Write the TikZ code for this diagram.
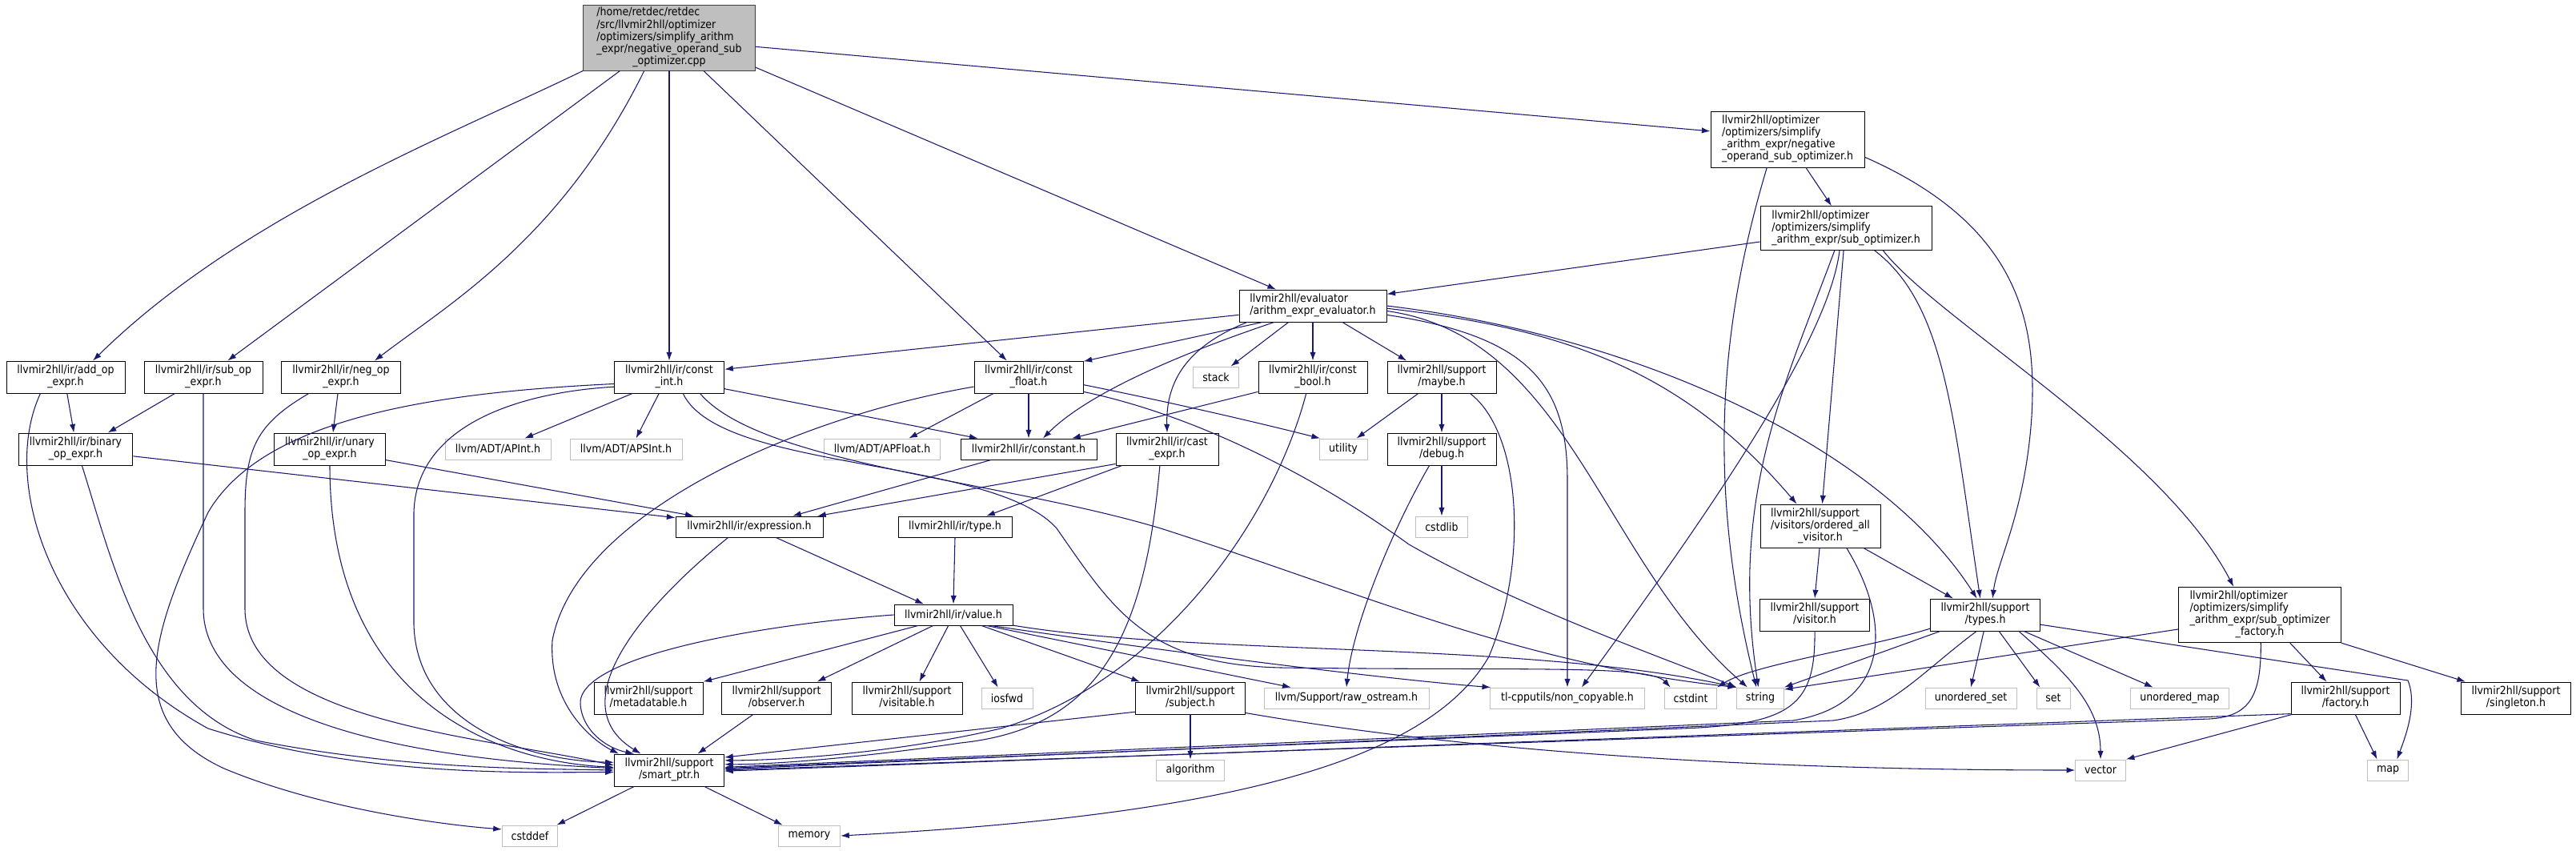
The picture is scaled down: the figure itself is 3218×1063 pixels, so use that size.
\documentclass[tikz,border=0pt]{standalone}
\usepackage{fontspec}
\usepackage{tikz}
\usetikzlibrary{arrows.meta}
\newfontfamily\dxfont{DejaVu Sans Condensed}
\definecolor{edgeblue}{HTML}{191970}
\definecolor{sysgray}{HTML}{BFBFBF}
\definecolor{rootfill}{HTML}{BFBFBF}
\definecolor{rootline}{HTML}{404040}
\newcommand{\flines}[2]{\begin{tabular}{@{}l@{}}#1\\\multicolumn{1}{@{}c@{}}{#2}\end{tabular}}

\begin{document}
\begin{tikzpicture}[
  x=0.75pt, y=-0.75pt,
  font={\dxfont\fontsize{10.5}{11.1}\selectfont},
  hdr/.style={rectangle, draw=black, fill=white, line width=0.7pt,
              inner sep=1pt, minimum height=30pt},
  sys/.style={hdr, draw=sysgray, minimum height=19.5pt},
  src/.style={hdr, draw=rootline, fill=rootfill},
  dep/.style={-{Latex[length=8pt,width=5.5pt]}, edgeblue, line width=0.8pt}]

  \useasboundingbox (0,0) rectangle (3218,1063);

  % source file and the optimizer headers
  \node[src, minimum width=161pt, minimum height=61.5pt] (root) at (836,47) {\flines{/home/retdec/retdec\\/src/llvmir2hll/optimizer\\/optimizers/simplify\_arithm\\\_expr/negative\_operand\_sub}{\_optimizer.cpp}};
  \node[hdr, minimum width=144pt, minimum height=52.5pt] (nsubh) at (2233,174) {\flines{llvmir2hll/optimizer\\/optimizers/simplify\\\_arithm\_expr/negative}{\_operand\_sub\_optimizer.h}};
  \node[hdr, minimum width=160.5pt, minimum height=41pt] (subopt) at (2306,285) {\flines{llvmir2hll/optimizer\\/optimizers/simplify}{\_arithm\_expr/sub\_optimizer.h}};
  \node[hdr, minimum width=138pt] (evalr) at (1640,382) {\flines{llvmir2hll/evaluator}{/arithm\_expr\_evaluator.h}};

  % ir row
  \node[hdr, minimum width=111pt] (addop) at (82,471) {\flines{llvmir2hll/ir/add\_op}{\_expr.h}};
  \node[hdr, minimum width=111pt] (subop) at (254,471) {\flines{llvmir2hll/ir/sub\_op}{\_expr.h}};
  \node[hdr, minimum width=112pt] (negop) at (426,471) {\flines{llvmir2hll/ir/neg\_op}{\_expr.h}};
  \node[hdr, minimum width=103pt] (cint) at (836,471) {\flines{llvmir2hll/ir/const}{\_int.h}};
  \node[hdr, minimum width=102pt] (cfloat) at (1285,471) {\flines{llvmir2hll/ir/const}{\_float.h}};
  \node[sys, minimum width=43pt] (stack) at (1519,471) {stack};
  \node[hdr, minimum width=102pt] (cbool) at (1640,471) {\flines{llvmir2hll/ir/const}{\_bool.h}};
  \node[hdr, minimum width=102pt] (maybe) at (1801,471) {\flines{llvmir2hll/support}{/maybe.h}};

  \node[hdr, minimum width=107pt] (binop) at (94.5,561) {\flines{llvmir2hll/ir/binary}{\_op\_expr.h}};
  \node[hdr, minimum width=104pt] (unop) at (412,561) {\flines{llvmir2hll/ir/unary}{\_op\_expr.h}};
  \node[sys, minimum width=99pt] (apint) at (622,561) {llvm/ADT/APInt.h};
  \node[sys, minimum width=105pt] (apsint) at (782,561) {llvm/ADT/APSInt.h};
  \node[sys, minimum width=109pt] (apfloat) at (1102,561) {llvm/ADT/APFloat.h};
  \node[hdr, minimum width=127.5pt, minimum height=19.5pt] (constant) at (1285,561) {llvmir2hll/ir/constant.h};
  \node[hdr, minimum width=96pt] (castx) at (1458,561) {\flines{llvmir2hll/ir/cast}{\_expr.h}};
  \node[sys, minimum width=45pt] (utility) at (1678,561) {utility};
  \node[hdr, minimum width=102pt] (debug) at (1801,561) {\flines{llvmir2hll/support}{/debug.h}};

  \node[hdr, minimum width=138pt, minimum height=19.5pt] (expr) at (936,658) {llvmir2hll/ir/expression.h};
  \node[hdr, minimum width=106.5pt, minimum height=19.5pt] (typeh) at (1193,658) {llvmir2hll/ir/type.h};
  \node[sys, minimum width=49pt] (cstdlib) at (1801,658) {cstdlib};
  \node[hdr, minimum width=112.5pt, minimum height=40.5pt] (ordvis) at (2274,657) {\flines{llvmir2hll/support\\/visitors/ordered\_all}{\_visitor.h}};

  \node[hdr, minimum width=111pt, minimum height=19.5pt] (value) at (1191,768) {llvmir2hll/ir/value.h};
  \node[hdr, minimum width=103pt] (visitor) at (2267,768) {\flines{llvmir2hll/support}{/visitor.h}};
  \node[hdr, minimum width=103pt] (types) at (2480,768) {\flines{llvmir2hll/support}{/types.h}};
  \node[hdr, minimum width=152pt, minimum height=52pt] (factoryopt) at (2823,768) {\flines{llvmir2hll/optimizer\\/optimizers/simplify\\\_arithm\_expr/sub\_optimizer}{\_factory.h}};

  % support row
  \node[hdr, minimum width=102pt] (metadat) at (810,872) {\flines{llvmir2hll/support}{/metadatable.h}};
  \node[hdr, minimum width=103pt] (observer) at (970,872) {\flines{llvmir2hll/support}{/observer.h}};
  \node[hdr, minimum width=103.5pt] (visitable) at (1133,872) {\flines{llvmir2hll/support}{/visitable.h}};
  \node[sys, minimum width=48pt] (iosfwd) at (1258,872) {iosfwd};
  \node[hdr, minimum width=103pt] (subject) at (1487,872) {\flines{llvmir2hll/support}{/subject.h}};
  \node[sys, minimum width=154.5pt] (rawos) at (1682,872) {llvm/Support/raw\_ostream.h};
  \node[sys, minimum width=145pt] (noncopy) at (1958,872) {tl-cpputils/non\_copyable.h};
  \node[sys, minimum width=49pt] (cstdint) at (2112,872) {cstdint};
  \node[sys, minimum width=44pt] (string) at (2199,872) {string};
  \node[sys, minimum width=85.5pt] (uset) at (2462,872) {unordered\_set};
  \node[sys, minimum width=31.5pt] (set) at (2565,872) {set};
  \node[sys, minimum width=92pt] (umap) at (2723,872) {unordered\_map};
  \node[hdr, minimum width=102pt] (factory) at (2930,872) {\flines{llvmir2hll/support}{/factory.h}};
  \node[hdr, minimum width=103pt] (singleton) at (3143,872) {\flines{llvmir2hll/support}{/singleton.h}};

  \node[hdr, minimum width=103pt] (smartptr) at (836,962) {\flines{llvmir2hll/support}{/smart\_ptr.h}};
  \node[sys, minimum width=64pt] (algorithm) at (1487,962) {algorithm};
  \node[sys, minimum width=47pt] (vector) at (2624,962) {vector};
  \node[sys, minimum width=38pt] (map) at (2983,962) {map};
  \node[sys, minimum width=52pt] (cstddef) at (662,1044) {cstddef};
  \node[sys, minimum width=58pt] (memory) at (1011,1044) {memory};

  % includes of the source file
  \draw[dep] (root.south west) .. controls (560,170) and (300,270) .. (addop.31);
  \draw[dep] (root.214) -- (subop.34);
  \draw[dep] (root.233) .. controls (700,300) and (560,380) .. (negop.26);
  \draw[dep] (root.south) -- (cint.north);
  \draw[dep] (root.316) -- (cfloat.143);
  \draw[dep] (root.-6) -- (nsubh.174);
  \draw[dep] (root.-19) -- (evalr.156);

  % optimizer headers
  \draw[dep] (nsubh.-57) -- (subopt.123);
  \draw[dep] (nsubh.234) .. controls (2150,400) and (2130,600) .. (string.110);
  \draw[dep] (nsubh.-13) .. controls (2520,280) and (2545,400) .. (2538,520) .. controls (2530,640) and (2495,700) .. (types.66);
  \draw[dep] (subopt.189) -- (evalr.9);
  \draw[dep] (subopt.264) -- (ordvis.85);
  \draw[dep] (subopt.243) .. controls (2230,480) and (2160,620) .. (string.100);
  \draw[dep] (subopt.254) .. controls (2285,420) and (2150,620) .. (noncopy.37);
  \draw[dep] (subopt.-38) .. controls (2430,380) and (2440,520) .. (types.107);
  \draw[dep] (subopt.-31) .. controls (2420,400) and (2700,560) .. (factoryopt.133);

  % evaluator
  \draw[dep] (evalr.187) -- (cint.8);
  \draw[dep] (evalr.198) -- (cfloat.16);
  \draw[dep] (evalr.194) .. controls (1490,430) and (1456,470) .. (castx.north);
  \draw[dep] (evalr.203) .. controls (1480,440) and (1360,490) .. (constant.37);
  \draw[dep] (evalr.214) -- (stack.36);
  \draw[dep] (evalr.south) -- (cbool.north);
  \draw[dep] (evalr.-29) -- (maybe.155);
  \draw[dep] (evalr.-2) .. controls (1950,410) and (2100,460) .. (ordvis.137);
  \draw[dep] (evalr.0) .. controls (2050,420) and (2350,560) .. (types.117);
  \draw[dep] (evalr.-7) .. controls (1910,420) and (1958,480) .. (1958,600) -- (noncopy.north);
  \draw[dep] (evalr.-4) .. controls (1960,420) and (2000,700) .. (string.140);

  % constants
  \draw[dep] (cint.204) -- (apint.22);
  \draw[dep] (cint.238) -- (apsint.47);
  \draw[dep] (cint.-12) -- (constant.168);
  \draw[dep] (cint.-50) .. controls (900,590) and (1240,570) .. (1320,660) .. controls (1390,760) and (1430,830) .. (1600,834) .. controls (1900,838) and (2060,830) .. (cstdint.152);
  \draw[dep] (cint.-28) .. controls (950,580) and (1250,600) .. (1450,660) .. controls (1700,740) and (1900,830) .. (string.north west);
  \draw[dep] (cint.187) .. controls (550,490) and (330,520) .. (260,640) .. controls (190,790) and (150,900) .. (280,960) .. controls (400,1010) and (550,1030) .. (cstddef.167);
  \draw[dep] (cint.190) .. controls (650,490) and (520,530) .. (517,640) -- (517,780) .. controls (520,900) and (650,950) .. (smartptr.172);
  \draw[dep] (cfloat.205) -- (apfloat.22);
  \draw[dep] (cfloat.south) -- (constant.north);
  \draw[dep] (cfloat.190) .. controls (1000,520) and (720,640) .. (690,800) .. controls (685,880) and (740,925) .. (smartptr.162);
  \draw[dep] (cfloat.-8) .. controls (1450,500) and (1560,525) .. (utility.155);
  \draw[dep] (cfloat.-15) .. controls (1500,520) and (1650,600) .. (1760,680) .. controls (1900,760) and (2100,830) .. (string.north west);
  \draw[dep] (cbool.195) -- (constant.14);
  \draw[dep] (cbool.248) .. controls (1590,650) and (1450,850) .. (1250,910) .. controls (1100,945) and (950,950) .. (smartptr.10);
  \draw[dep] (maybe.215) -- (utility.39);
  \draw[dep] (maybe.south) -- (debug.north);
  \draw[dep] (maybe.-30) .. controls (1900,540) and (1910,700) .. (1860,820) .. controls (1780,960) and (1500,1020) .. (memory.east);
  \draw[dep] (debug.south) -- (cstdlib.north);
  \draw[dep] (debug.233) .. controls (1740,660) and (1690,780) .. (rawos.north);

  % expressions
  \draw[dep] (addop.-85) -- (binop.96);
  \draw[dep] (addop.213) .. controls (0,600) and (60,800) .. (260,910) .. controls (450,970) and (650,965) .. (smartptr.182);
  \draw[dep] (subop.210) -- (binop.27);
  \draw[dep] (subop.south) -- (254,760) .. controls (254,880) and (450,945) .. (smartptr.178);
  \draw[dep] (negop.259) -- (unop.79);
  \draw[dep] (negop.207) .. controls (320,530) and (306,560) .. (306,640) -- (306,760) .. controls (306,900) and (600,920) .. (smartptr.175);
  \draw[dep] (binop.-7) -- (expr.173);
  \draw[dep] (binop.-69) .. controls (140,700) and (180,880) .. (320,925) .. controls (500,960) and (650,960) .. (smartptr.180);
  \draw[dep] (unop.-11) -- (expr.169);
  \draw[dep] (unop.south) .. controls (412,860) and (600,950) .. (smartptr.177);
  \draw[dep] (constant.196) -- (expr.14);
  \draw[dep] (castx.196) -- (expr.9);
  \draw[dep] (castx.200) -- (typeh.19);
  \draw[dep] (castx.246) .. controls (1430,800) and (1370,910) .. (1200,928) .. controls (1050,950) and (950,955) .. (smartptr.6);
  \draw[dep] (expr.-22) -- (value.160);
  \draw[dep] (expr.207) .. controls (800,760) and (700,880) .. (smartptr.150);
  \draw[dep] (typeh.south) -- (value.north);

  % value
  \draw[dep] (value.west) .. controls (950,780) and (720,820) .. (725,880) .. controls (728,915) and (760,935) .. (smartptr.155);
  \draw[dep] (value.197) -- (metadat.north east);
  \draw[dep] (value.208) -- (observer.22);
  \draw[dep] (value.245) -- (visitable.53);
  \draw[dep] (value.-58) -- (iosfwd.130);
  \draw[dep] (value.-21) -- (subject.162);
  \draw[dep] (value.-18) -- (rawos.169);
  \draw[dep] (value.-16) .. controls (1500,820) and (1750,850) .. (noncopy.172);
  \draw[dep] (value.-10) .. controls (1500,820) and (1900,800) .. (string.north west);
  \draw[dep] (observer.215) -- (smartptr.30);
  \draw[dep] (subject.south) -- (algorithm.north);
  \draw[dep] (subject.194) -- (smartptr.13);
  \draw[dep] (subject.-15) .. controls (1900,950) and (2300,962) .. (vector.west);

  % support
  \draw[dep] (ordvis.-92) -- (visitor.north);
  \draw[dep] (ordvis.-27) -- (types.153);
  \draw[dep] (ordvis.-40) .. controls (2365,780) and (2360,880) .. (2240,900) -- (smartptr.3);
  \draw[dep] (visitor.south) .. controls (2268,880) and (2240,905) .. (2100,910) -- (smartptr.2);
  \draw[dep] (types.-118) .. controls (2400,840) and (2360,890) .. (2290,900) -- (smartptr.1);
  \draw[dep] (types.194) .. controls (2330,810) and (2190,830) .. (cstdint.north east);
  \draw[dep] (types.200) -- (string.north east);
  \draw[dep] (types.-95) -- (uset.north);
  \draw[dep] (types.-50) -- (set.141);
  \draw[dep] (types.-26) .. controls (2580,840) and (2624,880) .. (vector.north);
  \draw[dep] (types.-23) -- (umap.158);
  \draw[dep] (types.-10) -- (3008,850) .. controls (3020,880) and (3005,920) .. (map.50);
  \draw[dep] (factoryopt.190) -- (string.20);
  \draw[dep] (factoryopt.-43) -- (factory.139);
  \draw[dep] (factoryopt.south east) -- (singleton.162);
  \draw[dep] (factoryopt.-88) .. controls (2825,870) and (2810,895) .. (2760,898) -- (smartptr.0);
  \draw[dep] (factory.196) -- (smartptr.-1);
  \draw[dep] (factory.197) -- (vector.north east);
  \draw[dep] (factory.-59) -- (map.135);
  \draw[dep] (smartptr.205) -- (cstddef.22);
  \draw[dep] (smartptr.-25) -- (memory.158);
\end{tikzpicture}
\end{document}
